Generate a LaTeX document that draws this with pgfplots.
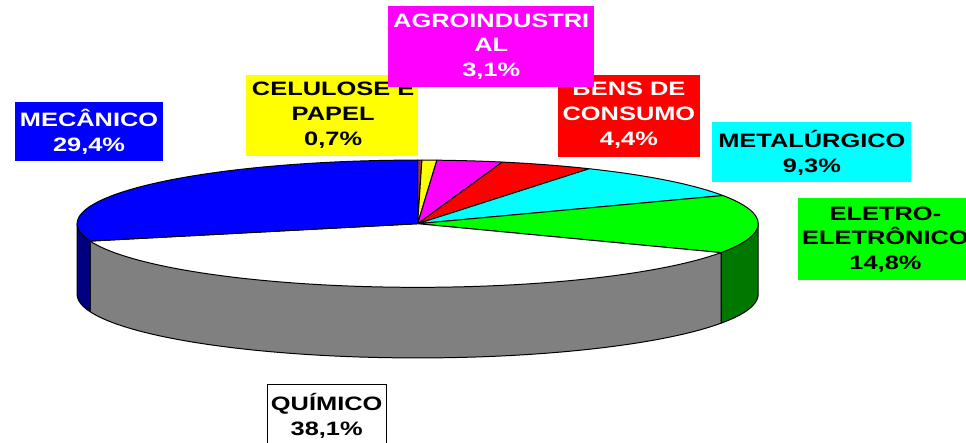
\documentclass[border=0pt]{standalone}
\usepackage{pgfplots}
\pgfplotsset{compat=1.18}
\usepackage{pgfplotstable}
\usepackage{fontspec}
\setmainfont{Liberation Sans}
\newfontfamily\labfont{Liberation Sans}[FakeStretch=1.31]

\definecolor{cOut}{HTML}{993366}
\definecolor{cCel}{HTML}{FFFF00}
\definecolor{cAgr}{HTML}{FF00FF}
\definecolor{cBen}{HTML}{FF0000}
\definecolor{cMet}{HTML}{00FFFF}
\definecolor{cEle}{HTML}{00FF00}
\definecolor{cEleS}{HTML}{007800}
\definecolor{cQui}{HTML}{FFFFFF}
\definecolor{cQuiS}{HTML}{808080}
\definecolor{cMec}{HTML}{0000FF}
\definecolor{cMecS}{HTML}{000080}

\pgfplotstableread{
sector value
Outros 0.2
Celulose 0.7
Agroindustrial 3.1
Bens 4.4
Metalurgico 9.3
Eletro 14.8
Quimico 38.1
Mecanico 29.4
}\piedata

\newcommand\topwedge[2]{%
  \edef\tmp{\noexpand\addplot[fill=#2, draw=black, line width=1pt, line join=round,
    domain=\csname angS#1\endcsname:\csname angE#1\endcsname, samples=60, variable=\noexpand\t]
    ({414.5+342.5*sin(\noexpand\t)},{220+64*cos(\noexpand\t)}) -- (axis cs:414.5,220) -- cycle;}%
  \tmp}
\newcommand\sidewall[3]{%
  \pgfmathsetmacro\xa{414.5+342.5*sin(#1)}%
  \pgfmathsetmacro\ya{220+64*cos(#1)}%
  \pgfmathsetmacro\xb{414.5+342.5*sin(#2)}%
  \pgfmathsetmacro\yb{220+64*cos(#2)}%
  \edef\tmp{\noexpand\addplot[fill=#3, draw=black, line width=1pt, line join=round,
    domain=#1:#2, samples=80, variable=\noexpand\t]
    ({414.5+342.5*sin(\noexpand\t)},{149+64*cos(\noexpand\t)}) -- (axis cs:\xb,\yb) -- (axis cs:414.5,220) -- (axis cs:\xa,\ya) -- cycle;}%
  \tmp}

\begin{document}
\def\cum{0}
\foreach \i in {0,...,7}{%
  \pgfplotstablegetelem{\i}{value}\of\piedata
  \pgfmathsetmacro{\newcum}{\cum+3.6*\pgfplotsretval}%
  \expandafter\xdef\csname angS\i\endcsname{\cum}%
  \expandafter\xdef\csname angE\i\endcsname{\newcum}%
  \xdef\cum{\newcum}%
}
\begin{tikzpicture}[lab/.style={font=\labfont\bfseries\fontsize{19.5}{25}\selectfont, align=center, inner sep=0pt, anchor=center}]
\begin{axis}[
  scale only axis, width=966pt, height=445pt,
  xmin=0, xmax=966, ymin=0, ymax=445,
  hide axis, clip=false,
]
\coordinate (ll) at (axis cs:0,0);
\coordinate (ur) at (axis cs:966,445);
% side walls (front half only)
\sidewall{90}{\csname angE5\endcsname}{cEleS}
\sidewall{\csname angS6\endcsname}{\csname angE6\endcsname}{cQuiS}
\sidewall{\csname angS7\endcsname}{270}{cMecS}
% top faces
\topwedge{0}{cOut}
\topwedge{1}{cCel}
\topwedge{2}{cAgr}
\topwedge{3}{cBen}
\topwedge{4}{cMet}
\topwedge{5}{cEle}
\topwedge{6}{cQui}
\topwedge{7}{cMec}
% labels
\fill[cMec] (axis cs:10,283) rectangle (axis cs:158,342);
\node[lab, text=white] at (axis cs:84,312.5) {MECÂNICO\\29,4\%};
\fill[cCel] (axis cs:242,288) rectangle (axis cs:415,370);
\node[lab, text=black] at (axis cs:329.5,329) {CELULOSE E\\PAPEL\\0,7\%};
\fill[cBen] (axis cs:556,287) rectangle (axis cs:698,370);
\node[lab, text=white] at (axis cs:627,329) {BENS DE\\CONSUMO\\4,4\%};
\fill[cAgr] (axis cs:385,357) rectangle (axis cs:592,439);
\node[lab, text=white] at (axis cs:488.5,398) {AGROINDUSTRI\\AL\\3,1\%};
\fill[cMet] (axis cs:711,262) rectangle (axis cs:911,322);
\node[lab, text=black] at (axis cs:811,291.5) {METALÚRGICO\\9,3\%};
\fill[cEle] (axis cs:797,163) rectangle (axis cs:973,246);
\node[lab, text=black] at (axis cs:885,204) {ELETRO-\\ELETRÔNICO\\14,8\%};
\filldraw[fill=white, draw=black, line width=0.8pt] (axis cs:263,-15) rectangle (axis cs:383,58);
\node[lab, text=black] at (axis cs:323,26.5) {QUÍMICO\\38,1\%};
\end{axis}
\pgfresetboundingbox
\path (ll) rectangle (ur);
\end{tikzpicture}
\end{document}
